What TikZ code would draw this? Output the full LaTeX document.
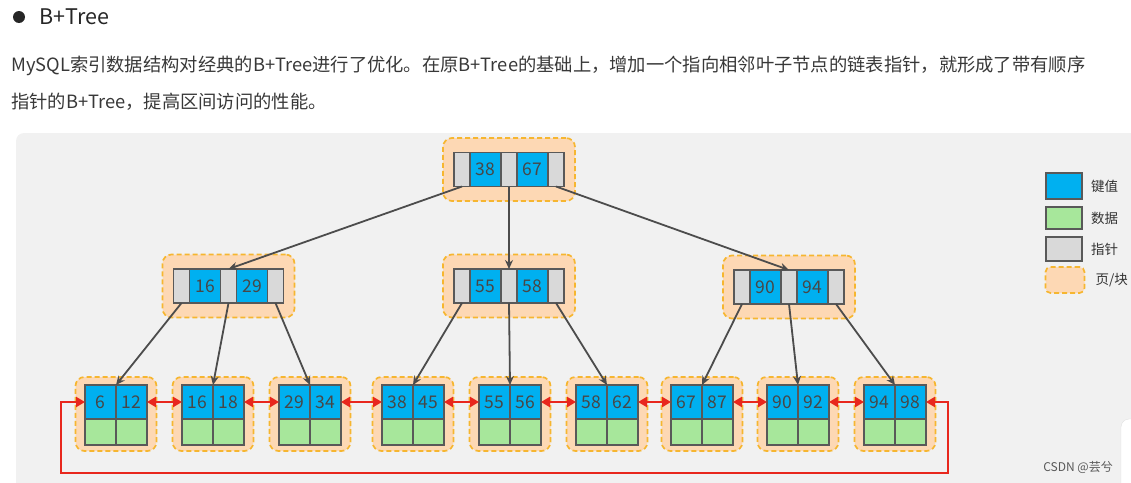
\documentclass[tikz,border=0pt]{standalone}
\usepackage{fontspec}
\setmainfont{Noto Sans CJK SC}
\usepackage{tikz}
\usetikzlibrary{arrows.meta, positioning}

\definecolor{panelbg}{HTML}{F1F1F1}
\definecolor{keyblue}{HTML}{00B0F0}
\definecolor{datgreen}{HTML}{A7E79B}
\definecolor{ptrgray}{HTML}{D9D9D9}
\definecolor{pagefill}{HTML}{FDD8B4}
\definecolor{pageline}{HTML}{F6B630}
\definecolor{linkred}{HTML}{E8271D}

\tikzstyle{cell} = [draw=black!65, line width=1.1pt, inner sep=0pt, outer sep=0pt,
                 font=\fontsize{17.5}{17.5}\selectfont, text=black!72]
\tikzstyle{ptrcell} = [cell, fill=ptrgray, minimum width=16pt, minimum height=34pt]
\tikzstyle{keycell} = [cell, fill=keyblue, minimum width=31pt, minimum height=34pt]
\tikzstyle{datcell} = [cell, fill=datgreen, minimum width=31pt, minimum height=26pt]
\tikzstyle{pagebox} = [draw=pageline, fill=pagefill, line width=1.7pt,
                 dash pattern=on 5pt off 3pt, rounded corners=9pt, inner sep=0pt]
\tikzstyle{branch} = [draw=black!70, line width=1.8pt, -{Stealth[length=9pt,width=8pt]}]
\tikzstyle{link} = [draw=linkred, line width=2.3pt,
                 {Triangle[length=9pt,width=10pt]}-{Triangle[length=9pt,width=10pt]}]
\tikzstyle{txt} = [inner sep=0pt, anchor=west]

\begin{document}
\begin{tikzpicture}[x=1pt, y=-1pt]
\useasboundingbox (0,0) rectangle (1131,482);

% panel
\begin{scope}
\clip (0,0) rectangle (1131,482);
\fill[panelbg, rounded corners=8pt] (16,133) rectangle (1150,500);
\draw[black!12, fill=white, rounded corners=8pt] (1121,419) rectangle (1150,500);
\end{scope}

% heading and text
\fill[black!85] (19,17) circle (6);
\node[txt, font=\fontsize{21.5}{21.5}\selectfont, text=black!85] (title) at (39,17) {B+Tree};
\node[txt, font=\fontsize{18.3}{18.3}\selectfont, text=black!78] (para1) at (11,66)
  {MySQL索引数据结构对经典的B+Tree进行了优化。在原B+Tree的基础上，增加一个指向相邻叶子节点的链表指针，就形成了带有顺序};
\node[txt, font=\fontsize{18.3}{18.3}\selectfont, text=black!78] (para2) at (11,102)
  {指针的B+Tree，提高区间访问的性能。};

% inner nodes
\foreach \n/\cx/\cy/\a/\b in {r/509/169.5/38/67, m1/228.5/286/16/29, m2/509/286/55/58, m3/789/287/90/94} {
  \node[pagebox, minimum width=132pt, minimum height=63pt] (\n) at (\cx,\cy) {};
  \node[ptrcell] (\n-p1) at ({\cx-47},\cy) {};
  \node[keycell] (\n-k1) at ({\cx-23.5},\cy) {\a};
  \node[ptrcell] (\n-p2) at (\cx,\cy) {};
  \node[keycell] (\n-k2) at ({\cx+23.5},\cy) {\b};
  \node[ptrcell] (\n-p3) at ({\cx+47},\cy) {};
}

% leaves
\foreach \i/\cx/\a/\b in {1/116/6/12, 2/213/16/18, 3/310/29/34, 4/413/38/45, 5/510/55/56,
                          6/607/58/62, 7/702/67/87, 8/798/90/92, 9/895/94/98} {
  \node[pagebox, minimum width=81pt, minimum height=74pt] (l\i) at (\cx,414) {};
  \node[keycell] (l\i-k1) at ({\cx-15.5},402) {\a};
  \node[keycell] (l\i-k2) at ({\cx+15.5},402) {\b};
  \node[datcell] (l\i-d1) at ({\cx-15.5},432) {};
  \node[datcell] (l\i-d2) at ({\cx+15.5},432) {};
}

% tree pointers
\foreach \f/\t in {r-p1/m1-p2, r-p2/m2-p2, r-p3/m3-p2}
  \draw[branch] (\f.south) -- (\t.north);
\foreach \f/\t in {m1-p1/l1, m1-p2/l2, m1-p3/l3, m2-p1/l4, m2-p2/l5, m2-p3/l6,
                   m3-p1/l7, m3-p2/l8, m3-p3/l9}
  \draw[branch] (\f.south) -- (\t-k1.north east);

% leaf links
\foreach \i/\j in {1/2, 2/3, 3/4, 4/5, 5/6, 6/7, 7/8, 8/9}
  \draw[link] (l\i-k2.east) -- (l\j-k1.west);
\coordinate (loopL) at (61,473);
\coordinate (loopR) at (948,473);
\draw[link] (l1-k1.west) -| (loopL) -- (loopR) |- (l9-k2.east);

% legend
\node[keycell, minimum width=36pt, minimum height=26pt] (lg-key) at (1064,186) {};
\node[datcell, minimum width=36pt, minimum height=22pt] (lg-dat) at (1064,218) {};
\node[ptrcell, minimum width=36pt, minimum height=24pt] (lg-ptr) at (1064,249) {};
\node[pagebox, minimum width=39pt, minimum height=26pt, rounded corners=5pt] (lg-page) at (1065,280) {};
\node[txt, right=9pt of lg-key, font=\fontsize{13.5}{13.5}\selectfont, text=black!80] (lt-key) {键值};
\node[txt, right=9pt of lg-dat, font=\fontsize{13.5}{13.5}\selectfont, text=black!80] (lt-dat) {数据};
\node[txt, right=9pt of lg-ptr, font=\fontsize{13.5}{13.5}\selectfont, text=black!80] (lt-ptr) {指针};
\node[txt, right=10pt of lg-page, font=\fontsize{13.5}{13.5}\selectfont, text=black!80] (lt-page) {页/块};

% watermark
\node[inner sep=0pt, anchor=east, font=\fontsize{12}{12}\selectfont, text=black!65] (mark) at (1113,467) {CSDN @芸兮};
\end{tikzpicture}
\end{document}
